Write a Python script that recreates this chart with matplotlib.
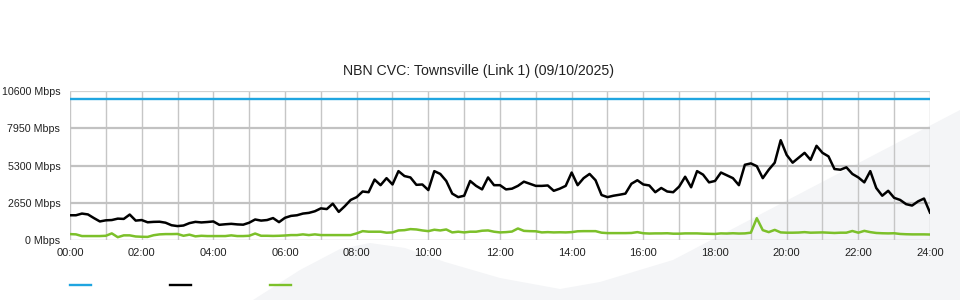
import matplotlib
matplotlib.use("Agg")
import matplotlib.pyplot as plt
import numpy as np
from matplotlib.patches import Polygon
from matplotlib.lines import Line2D

plt.rcParams['font.family'] = ['Liberation Sans', 'DejaVu Sans']

title = "NBN CVC: Townsville (Link 1) (09/10/2025)"

# capacity of the link (Mbps)
capacity = 10000

# samples every 10 minutes from 00:00 to 24:00
hours = np.arange(145) / 6.0

# black series (Mbps)
black_mbps = [1760, 1760, 1880, 1820, 1560, 1320, 1400, 1420, 1520, 1500, 1810, 1380, 1420, 1260, 1290, 1300, 1230, 1050, 990,
              1030, 1200, 1290, 1250, 1280, 1320, 1080, 1120, 1150, 1110, 1090, 1230, 1460, 1380, 1420, 1560, 1270, 1580,
              1715, 1760, 1880, 1930, 2045, 2250, 2200, 2585, 2000, 2400, 2850, 3050, 3450, 3400, 4300, 3900, 4400, 3950,
              4900, 4550, 4450, 3925, 3950, 3550, 4900, 4700, 4200, 3300, 3050, 3150, 4200, 3850, 3600, 4450, 3900, 3900,
              3600, 3650, 3850, 4150, 4000, 3850, 3850, 3880, 3500, 3650, 3850, 4800, 3900, 4400, 4700, 4250, 3200, 3050,
              3150, 3220, 3300, 4000, 4250, 3950, 3880, 3400, 3700, 3450, 3400, 3800, 4500, 3750, 4900, 4650, 4100, 4200,
              4800, 4600, 4400, 3900, 5350, 5450, 5250, 4400, 5000, 5500, 7100, 6050, 5500, 5850, 6200, 5700, 6700, 6200,
              5950, 5050, 5000, 5170, 4700, 4450, 4100, 4900, 3700, 3150, 3500, 3000, 2850, 2550, 2450, 2750, 2950, 1950]

# green series (Mbps)
green_mbps = [420, 400, 280, 280, 280, 280, 300, 470, 200, 330, 330, 250, 230, 220, 340, 400, 420, 420, 430,
              300, 380, 260, 300, 280, 280, 280, 280, 330, 280, 280, 300, 460, 300, 300, 290, 300, 320,
              350, 350, 400, 350, 400, 350, 350, 350, 350, 350, 350, 470, 630, 590, 590, 590, 520, 540,
              680, 700, 775, 750, 680, 630, 730, 680, 750, 540, 590, 540, 590, 590, 660, 680, 590, 540,
              560, 600, 820, 650, 630, 620, 540, 560, 540, 550, 540, 560, 620, 630, 630, 630, 520, 490,
              490, 490, 490, 500, 560, 480, 460, 470, 470, 480, 450, 450, 470, 470, 470, 450, 440, 430,
              470, 460, 480, 460, 470, 520, 1550, 700, 560, 720, 540, 520, 520, 530, 560, 520, 530, 540,
              520, 500, 520, 520, 640, 520, 650, 560, 500, 480, 470, 480, 430, 410, 400, 400, 400, 390]

y_ticks = [0, 2650, 5300, 7950, 10600]
x_ticks = list(range(0, 25, 2))

BLUE = '#1fa5e0'
GREEN = '#7cc02a'

W, H = 960, 300
fig = plt.figure(figsize=(9.6, 3.0), dpi=100)

# light background decoration
def px(pts):
    return [(x / W, 1 - y / H) for x, y in pts]

deco = Polygon(px([(253, 300), (300, 270), (340, 249), (370, 243), (405, 248), (445, 262), (500, 278),
                   (560, 289), (600, 282), (673, 260), (960, 110), (960, 300)]),
               closed=True, transform=fig.transFigure, facecolor='#f4f5f7', edgecolor='none', zorder=-5)
fig.patches.append(deco)

ax = fig.add_axes([70 / W, 1 - 240 / H, 860 / W, 149 / H])
ax.set_zorder(2)
ax.patch.set_alpha(0)

# grid
for h in range(25):
    ax.axvline(h, color='#c6c6c6', lw=1.0, zorder=1)
for v in y_ticks[1:-1]:
    ax.axhline(v, color='#c2c2c2', lw=1.6, zorder=1)
ax.axhline(10600, color='#d2d2d2', lw=0.9, zorder=1)
ax.axhline(0, color='#c6c6c6', lw=1.0, zorder=1)

ax.plot([0, 24], [capacity, capacity], color=BLUE, lw=1.7, zorder=3)
ax.plot(hours, green_mbps, color=GREEN, lw=1.8, zorder=3)
ax.plot(hours, black_mbps, color='black', lw=1.8, zorder=4)

ax.set_xlim(0, 24)
ax.set_ylim(0, 10600)
ax.set_xticks(x_ticks)
ax.set_xticklabels([f"{h:02d}:00" for h in x_ticks], fontsize=8)
ax.set_yticks(y_ticks)
ax.set_yticklabels([f"{v} Mbps" for v in y_ticks], fontsize=7.7)
ax.tick_params(axis='both', length=0, colors='#222222')
ax.tick_params(axis='y', pad=7)
ax.tick_params(axis='x', pad=6)
for s in ax.spines.values():
    s.set_visible(False)

fig.text(0.498, 1 - 71 / H, title, ha='center', va='center', fontsize=10.2, color='#222222')

# legend swatches (no labels)
for x0, c in [(70, BLUE), (170, 'black'), (270, GREEN)]:
    fig.add_artist(Line2D([x0 / W, (x0 + 21) / W], [1 - 285 / H] * 2, color=c, lw=1.7,
                          transform=fig.transFigure))

fig.savefig('out.png', dpi=100)
